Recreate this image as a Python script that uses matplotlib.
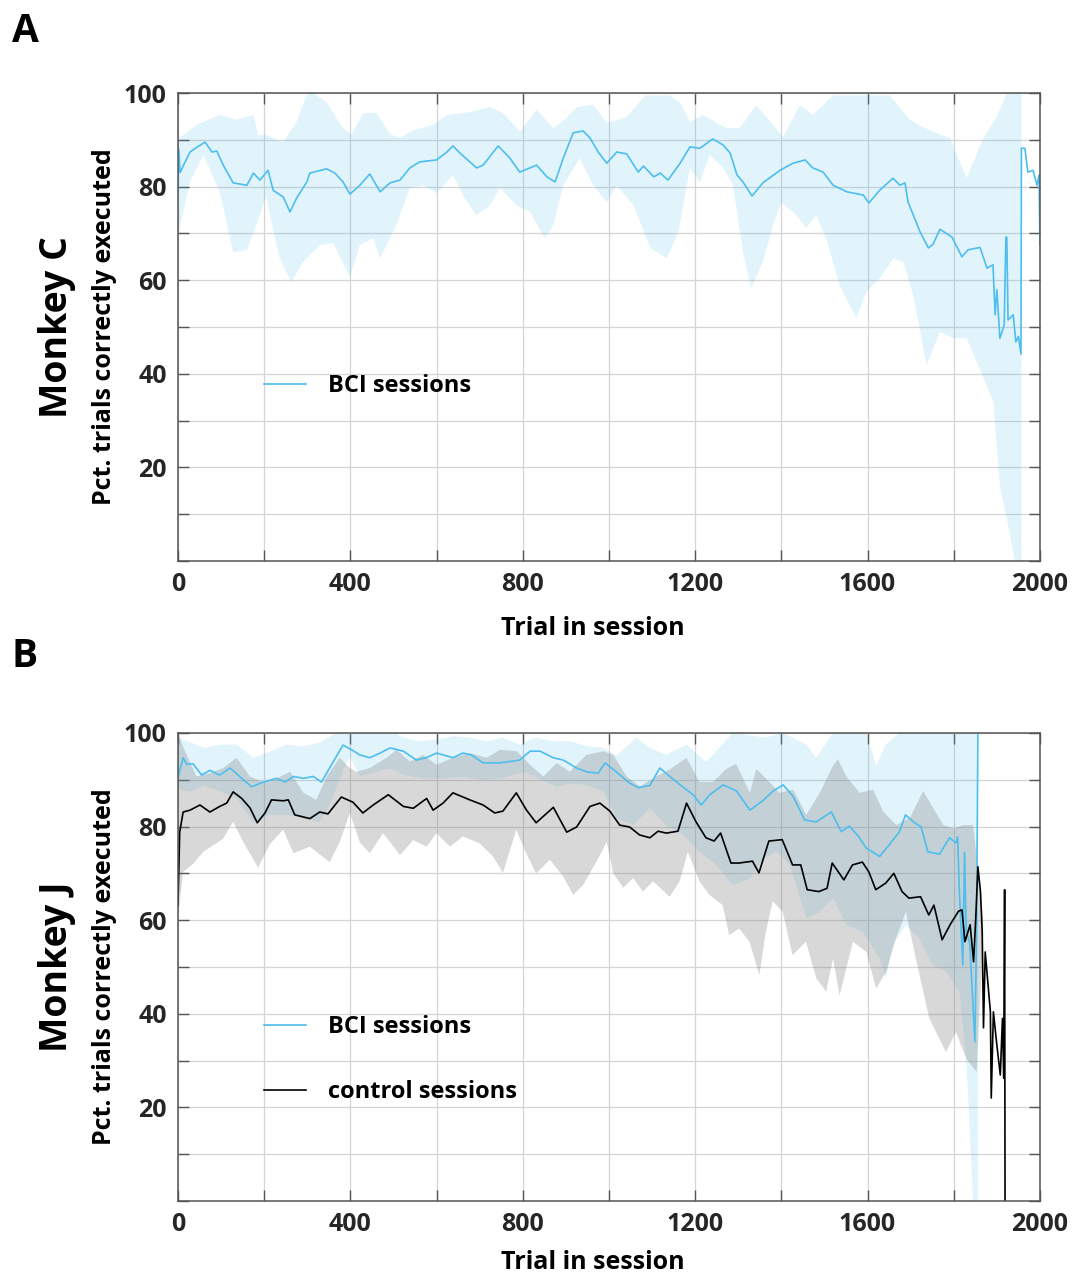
import numpy as np
import matplotlib
matplotlib.use("Agg")
import matplotlib.pyplot as plt
from matplotlib.ticker import MultipleLocator

plt.rcParams['font.family'] = ['Open Sans', 'DejaVu Sans']
plt.rcParams['font.weight'] = 'bold'
plt.rcParams['axes.labelweight'] = 'bold'

# ---- Monkey C (panel A), BCI sessions ----
c_t = [0, 2, 5, 15, 28, 45, 63, 79, 90, 105,
       128, 160, 175, 190, 209, 221, 244, 260, 275, 299,
       306, 345, 364, 383, 399, 422, 445, 469, 492, 515,
       538, 561, 600, 624, 638, 654, 693, 708, 743, 770,
       793, 832, 856, 875, 894, 917, 940, 956, 975, 995,
       1018, 1041, 1068, 1080, 1104, 1119, 1137, 1165, 1188, 1211,
       1241, 1265, 1281, 1297, 1311, 1332, 1357, 1397, 1427, 1455,
       1473, 1497, 1520, 1552, 1590, 1603, 1629, 1659, 1675, 1687,
       1694, 1722, 1741, 1752, 1768, 1796, 1819, 1833, 1861, 1877,
       1891, 1896, 1900, 1907, 1917, 1921, 1923, 1926, 1938, 1944,
       1950, 1956, 1957, 1965, 1972, 1984, 1993, 1998, 2000]
c_bci = [79, 88, 83, 85, 87.4, 88.5, 89.5, 87.4, 87.6, 84.6,
         80.8, 80.3, 82.9, 81.4, 83.5, 79.2, 77.8, 74.6, 77.5, 81.0,
         82.9, 83.8, 82.9, 81.0, 78.4, 80.3, 82.7, 78.9, 80.8, 81.4,
         84.0, 85.3, 85.7, 87.4, 88.7, 87.2, 84.0, 84.6, 88.7, 86.1,
         83.1, 84.6, 82.1, 81.0, 86.1, 91.5, 91.9, 90.4, 87.4, 85.0,
         87.4, 87.0, 83.1, 84.4, 82.1, 82.9, 81.4, 85.0, 88.5, 88.2,
         90.2, 88.9, 87.2, 82.5, 81.0, 78.0, 80.8, 83.5, 85.0, 85.7,
         84.0, 83.1, 80.3, 78.9, 78.2, 76.5, 79.3, 81.8, 80.3, 80.8,
         76.7, 70.3, 66.9, 67.7, 70.9, 69.2, 65.0, 66.5, 67.0, 62.6,
         63.3, 52.6, 58.0, 47.6, 50.4, 69.2, 69.2, 51.5, 52.6, 46.8,
         48.0, 44.2, 88.2, 88.2, 83.1, 83.5, 80.3, 82.5, 67.5]

c_hi_t = [0, 5, 43, 97, 136, 175, 186, 205, 244, 275, 299, 314, 345, 383, 403,
          430, 461, 492, 515, 546, 592, 624, 677, 724, 755, 793, 832, 871, 894,
          925, 963, 995, 1041, 1084, 1141, 1165, 1188, 1218, 1272, 1303, 1342,
          1381, 1404, 1443, 1473, 1520, 1597, 1652, 1698, 1722, 1752, 1791,
          1830, 1869, 1900, 1923, 1957]
c_hi = [90, 90.5, 93.2, 95.3, 94.3, 95.3, 91, 91, 89.5, 93.8, 99.6, 100, 98,
        92.5, 91.2, 95.7, 95.7, 91.2, 90.4, 92, 93.2, 95.3, 95.9, 97, 95.7,
        91.7, 96.5, 92.5, 94, 97, 97.5, 93.6, 94.9, 99.5, 99.5, 97.9, 93.8,
        95.3, 92.5, 92.5, 97.4, 93.2, 90.6, 97.4, 95.3, 99.5, 99.5, 99.5,
        94.3, 93, 91.7, 90.4, 81.8, 90.4, 95, 100, 100]
c_lo_t = [0, 28, 59, 97, 128, 160, 182, 205, 213, 236, 263, 290, 329, 360, 399,
          422, 453, 469, 507, 538, 569, 600, 638, 661, 692, 724, 747, 786, 817,
          851, 871, 894, 932, 963, 995, 1018, 1057, 1096, 1134, 1161, 1188,
          1211, 1234, 1265, 1288, 1311, 1330, 1357, 1381, 1400, 1427, 1458,
          1481, 1504, 1535, 1574, 1597, 1629, 1660, 1683, 1706, 1737, 1768,
          1799, 1830, 1869, 1892, 1907, 1923, 1942, 1957]
c_lo = [69.7, 81, 86.8, 78.9, 66, 66.5, 71.8, 78.2, 74, 64.7, 59.6, 63.9, 67.5,
        68, 60.7, 67.5, 69, 64.7, 71.8, 79.7, 80.3, 78.6, 82.5, 78.2, 73.9, 76,
        79.7, 76, 74.6, 69, 71.8, 80.3, 86.1, 80.3, 76.7, 80.3, 76, 66.9, 64.7,
        70.3, 84, 81, 86.8, 84, 80.3, 66, 58.3, 63.9, 71.8, 76.7, 74.6, 71.2,
        73.9, 69, 59, 51.9, 57.5, 60.5, 64.7, 63.9, 56.8, 41.9, 49, 47.6, 47.6,
        39.1, 34, 16.2, 9.2, 0, 0]

# ---- Monkey J (panel B) ----
j_bci_t = [0, 12, 20, 35, 55, 74, 97, 121, 148, 171,
           198, 229, 248, 268, 291, 314, 333, 360, 383, 403,
           422, 445, 469, 492, 523, 553, 576, 600, 638, 661,
           681, 708, 747, 793, 817, 840, 871, 894, 925, 948,
           975, 991, 1010, 1048, 1068, 1095, 1118, 1141, 1164, 1195,
           1214, 1234, 1265, 1296, 1327, 1358, 1381, 1404, 1427, 1454,
           1481, 1516, 1539, 1558, 1578, 1597, 1628, 1651, 1674, 1688,
           1709, 1724, 1740, 1767, 1790, 1805, 1809, 1813, 1821, 1825,
           1829, 1837, 1841, 1849, 1853, 1856]
j_bci = [90.4, 94.7, 93.3, 93.4, 91.0, 92.0, 91.0, 92.5, 90.3, 88.5,
         89.5, 90.3, 89.5, 90.7, 90.3, 90.7, 89.5, 93.8, 97.4, 96.4,
         95.3, 94.7, 95.7, 96.8, 96.1, 94.2, 94.7, 95.7, 94.7, 95.7,
         95.3, 93.6, 93.6, 94.2, 96.1, 96.1, 94.7, 94.2, 92.5, 91.7,
         91.4, 93.6, 92.2, 89.3, 88.3, 88.8, 92.5, 90.7, 89.0, 86.8,
         84.6, 86.8, 88.9, 87.6, 83.5, 85.6, 87.6, 88.9, 86.5, 81.4,
         81.0, 83.1, 78.9, 80.1, 78.0, 75.4, 73.6, 76.2, 78.9, 82.5,
         80.8, 80.0, 74.6, 74.1, 77.6, 76.5, 77.8, 66.0, 50.4, 74.5,
         57.7, 55.0, 48.3, 34.0, 57.7, 100]

j_ctl_t = [0, 4, 12, 28, 51, 74, 97, 113, 128, 148,
           167, 184, 202, 217, 244, 256, 271, 306, 329, 348,
           379, 406, 429, 453, 488, 523, 546, 577, 592, 615,
           638, 677, 708, 735, 754, 785, 808, 831, 871, 902,
           925, 956, 979, 1002, 1025, 1048, 1071, 1095, 1114, 1133,
           1160, 1180, 1202, 1225, 1244, 1259, 1283, 1302, 1333, 1348,
           1371, 1402, 1426, 1445, 1460, 1487, 1506, 1518, 1545, 1565,
           1588, 1603, 1619, 1642, 1661, 1680, 1696, 1723, 1742, 1754,
           1773, 1792, 1811, 1819, 1826, 1838, 1846, 1851, 1856, 1862,
           1866, 1869, 1873, 1885, 1887, 1892, 1900, 1908, 1913, 1916,
           1918, 1919]
j_ctl = [63.2, 78.8, 83.1, 83.5, 84.6, 83.1, 84.3, 85.0, 87.4, 86.0,
         84.0, 80.8, 82.9, 85.7, 85.5, 85.7, 82.5, 81.7, 83.1, 82.7,
         86.3, 85.2, 82.9, 84.6, 86.8, 84.3, 83.9, 86.0, 83.5, 85.0,
         87.2, 85.7, 84.6, 82.9, 83.3, 87.2, 83.6, 80.8, 84.1, 78.8,
         79.9, 84.3, 85.0, 83.3, 80.3, 79.9, 78.2, 77.6, 79.0, 78.6,
         79.0, 85.0, 81.0, 77.6, 76.9, 78.6, 72.2, 72.2, 72.6, 70.1,
         76.9, 77.2, 71.8, 71.8, 66.5, 66.1, 66.8, 72.2, 68.6, 71.8,
         72.4, 70.3, 66.5, 67.9, 70.0, 66.1, 64.7, 65.0, 61.1, 63.2,
         55.8, 59.1, 61.9, 62.2, 55.4, 59.0, 51.1, 60.4, 71.4, 66.1,
         57.5, 37.0, 53.2, 40.4, 22.0, 40.4, 33.3, 26.9, 39.0, 26.2,
         66.5, 0]

j_bci_hi_t = [0, 62, 97, 136, 175, 213, 252, 291, 329, 368, 500, 523, 561, 600,
              638, 677, 716, 754, 793, 831, 871, 909, 948, 987, 1018, 1064,
              1095, 1133, 1180, 1225, 1256, 1287, 1364, 1404, 1458, 1481, 1520,
              1597, 1620, 1642, 1674, 1856]
j_bci_hi = [99, 96.8, 97.5, 97.5, 94.7, 96, 97.5, 97.1, 98, 100, 100, 99, 98.2,
            98.6, 99.3, 99, 98.2, 99, 97.5, 99, 98.2, 98.2, 97.2, 96.8, 95.2,
            99, 96.8, 95.3, 97.5, 93.8, 96.8, 100, 99, 100, 97.5, 94.7, 100,
            100, 93, 97.5, 100, 100]
j_bci_lo_t = [0, 28, 59, 97, 136, 175, 213, 252, 291, 329, 352, 383, 399, 422,
              461, 492, 523, 569, 615, 661, 708, 754, 801, 831, 879, 909, 948,
              987, 1018, 1056, 1095, 1133, 1172, 1210, 1249, 1287, 1327, 1358,
              1389, 1420, 1458, 1489, 1520, 1551, 1589, 1628, 1643, 1658, 1689,
              1720, 1751, 1782, 1813, 1829, 1845, 1856]
j_bci_lo = [88, 87.4, 88.8, 87.5, 86, 81, 82.5, 82.5, 81.7, 81, 84.6, 92, 94.9,
            90.7, 91.7, 92.4, 91, 90.3, 90.3, 90.6, 89.9, 90.3, 91.7, 90.6,
            88.5, 89.2, 88.9, 87.5, 81.8, 80.3, 83.9, 80.3, 78.2, 74.6, 71.8,
            67.5, 68.9, 73.2, 74.6, 71.8, 60.4, 61.8, 64.7, 59.0, 57.5, 51.9,
            47.6, 54.7, 59.0, 56.1, 50.4, 49.0, 44.7, 30.5, 0, 0]

j_ctl_hi_t = [0, 12, 43, 74, 105, 136, 167, 198, 229, 260, 291, 321, 345, 375,
              399, 414, 445, 484, 507, 538, 569, 600, 638, 677, 716, 747, 786,
              817, 848, 879, 909, 948, 987, 1010, 1041, 1072, 1110, 1141, 1180,
              1210, 1241, 1272, 1295, 1327, 1342, 1365, 1396, 1427, 1458, 1489,
              1520, 1531, 1551, 1582, 1613, 1636, 1667, 1698, 1729, 1752, 1776,
              1800, 1822, 1845, 1868]
j_ctl_hi = [100, 97, 90.7, 91.4, 92.5, 94.7, 90.7, 89.5, 90.3, 91.7, 87.2, 85.7,
            90.7, 94.7, 92.5, 91.7, 92.5, 94.7, 96.4, 93.9, 95.3, 93.2, 94.7,
            95.7, 94.7, 96.4, 96.1, 93.2, 90.7, 93.6, 91.7, 95.3, 96.1, 95.3,
            90.7, 88.6, 90.7, 92.2, 94.7, 89.5, 89.5, 92.3, 93.4, 87.2, 92.3,
            90.2, 87.2, 87.9, 82.5, 87.2, 93.0, 94.4, 90.7, 87.2, 87.9, 83.2,
            80.3, 81.8, 87.6, 84.0, 80.3, 79.6, 80.3, 80.3, 60.5]
j_ctl_lo_t = [0, 12, 35, 59, 82, 105, 128, 152, 186, 213, 244, 268, 306, 352,
              375, 399, 422, 445, 476, 515, 546, 577, 600, 631, 661, 700, 731,
              754, 785, 808, 831, 863, 894, 917, 940, 971, 995, 1010, 1033, 1056,
              1079, 1102, 1141, 1164, 1183, 1210, 1233, 1264, 1279, 1302, 1326,
              1349, 1364, 1380, 1403, 1426, 1457, 1481, 1504, 1520, 1535, 1566,
              1597, 1620, 1643, 1666, 1689, 1712, 1743, 1766, 1782, 1805, 1829,
              1853, 1868]
j_ctl_lo = [60.5, 70.3, 72, 74.6, 76, 77.4, 81, 76.6, 71.2, 76.2, 79.3, 74.3,
            75.7, 72.4, 76.6, 82.9, 76.6, 74.3, 78.6, 73.9, 77.1, 75.7, 78.6,
            75.7, 77.9, 76.4, 73.6, 70.1, 79.3, 74.3, 70.0, 72.9, 69.3, 65.4,
            67.5, 72.5, 76.7, 70.0, 66.9, 69.0, 66.1, 68.3, 65.0, 68.3, 74.6,
            68.3, 65.4, 63.2, 56.8, 58.2, 55.4, 48.3, 57.5, 64.0, 61.8, 52.5,
            55.4, 47.6, 44.7, 51.8, 43.9, 55.4, 53.2, 45.4, 48.9, 56.1, 61.8,
            51.8, 39.1, 34.8, 31.8, 36.1, 30.4, 27.6, 55]

BLUE = '#4DBEEE'
GREY = '#808080'


def banda(ax, hi_t, hi, lo_t, lo, cor, alpha):
    xs = np.concatenate([hi_t, lo_t[::-1]])
    ys = np.concatenate([hi, lo[::-1]])
    ax.fill(xs, ys, color=cor, alpha=alpha, lw=0)


def estilo(ax, monkey, ylab_x=-0.118):
    ax.set_xlim(0, 2000)
    ax.set_ylim(0, 100)
    ax.xaxis.set_major_locator(MultipleLocator(400))
    ax.xaxis.set_minor_locator(MultipleLocator(200))
    ax.set_yticks([20, 40, 60, 80, 100])
    ax.yaxis.set_minor_locator(MultipleLocator(10))
    ax.grid(True, which='both', color='#d4d4d4', lw=0.9)
    ax.set_axisbelow(True)
    ax.tick_params(which='both', direction='in', top=True, right=True,
                   length=8, width=1, color='#555555', labelsize=18,
                   labelcolor='#262626', pad=8)
    for s in ax.spines.values():
        s.set_color('#555555')
        s.set_linewidth(1.1)
    ax.set_xlabel('Trial in session', fontsize=18)
    ax.xaxis.set_label_coords(0.481, ylab_x)
    ax.set_ylabel('Pct. trials correctly executed', fontsize=18)
    ax.yaxis.set_label_coords(-0.071, 0.5)
    ax.text(-0.140, 0.5, monkey, transform=ax.transAxes, rotation=90,
            fontsize=27, fontweight='bold', ha='center', va='center')


fig = plt.figure(figsize=(10.76, 12.78), dpi=100)
axA = fig.add_axes([0.1654, 0.5610, 0.8011, 0.3662])
axB = fig.add_axes([0.1654, 0.0603, 0.8011, 0.3662])

banda(axA, c_hi_t, c_hi, c_lo_t, c_lo, BLUE, 0.17)
axA.plot(c_t, c_bci, color=BLUE, lw=1.2, label='BCI sessions')
estilo(axA, 'Monkey C')
axA.legend(loc='center left', bbox_to_anchor=(0.075, 0.374), frameon=False,
           fontsize=17, handlelength=1.8, handletextpad=0.9)

banda(axB, j_bci_hi_t, j_bci_hi, j_bci_lo_t, j_bci_lo, BLUE, 0.17)
axB.plot(j_bci_t, j_bci, color=BLUE, lw=1.2, label='BCI sessions')
banda(axB, j_ctl_hi_t, j_ctl_hi, j_ctl_lo_t, j_ctl_lo, GREY, 0.3)
axB.plot(j_ctl_t, j_ctl, color='black', lw=1.2, label='control sessions')
estilo(axB, 'Monkey J', ylab_x=-0.104)
axB.legend(loc='upper left', bbox_to_anchor=(0.075, 0.442), frameon=False,
           fontsize=17, handlelength=1.8, handletextpad=0.9, labelspacing=1.72)

fig.text(0.011, 0.975, 'A', fontsize=28, fontweight='bold', va='center')
fig.text(0.011, 0.486, 'B', fontsize=28, fontweight='bold', va='center')

fig.savefig('out.png', dpi=100)
